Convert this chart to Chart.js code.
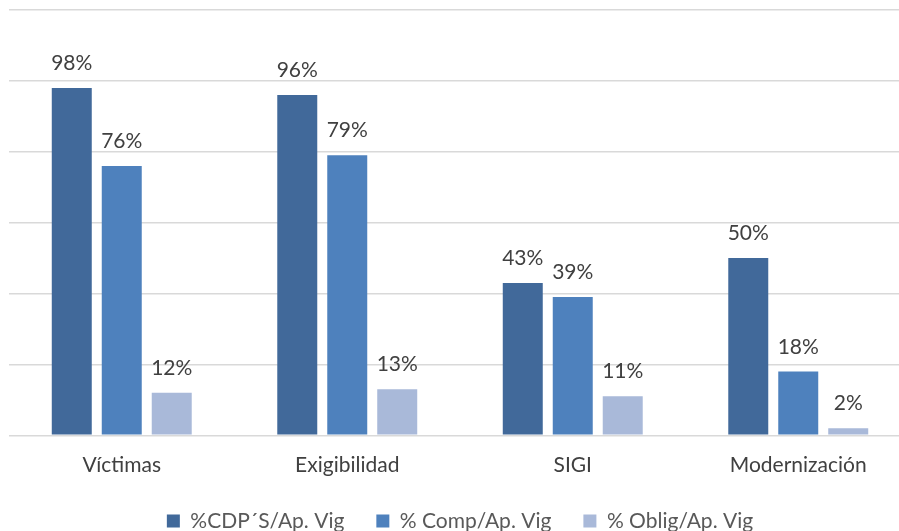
<!DOCTYPE html>
<html>
<head>
<meta charset="utf-8">
<script src="https://cdn.jsdelivr.net/npm/chart.js@4/dist/chart.umd.min.js"></script>
<style>
  body { margin: 0; background: #fff; overflow: hidden; }
  #wrap { width: 911px; height: 531px; position: relative; }
</style>
</head>
<body>
<div id="wrap"><canvas id="grafico"></canvas></div>
<script>
const categorias = ["Víctimas", "Exigibilidad", "SIGI", "Modernización"];
const cdps = [98, 96, 43, 50];
const comp = [76, 79, 39, 18];
const oblig = [12, 13, 11, 2];
const nomesSeries = ["%CDP´S/Ap. Vig", "% Comp/Ap. Vig", "% Oblig/Ap. Vig"];
const coresSeries = ["#41699A", "#4E81BD", "#A9B9D9"];

// rotulos em cima de cada barra
const rotulos = {
    id: "rotulos",
    afterDatasetsDraw(chart) {
        const ctx = chart.ctx;
        ctx.save();
        ctx.font = "21px Lato";
        ctx.fillStyle = "#404040";
        ctx.textAlign = "center";
        ctx.textBaseline = "alphabetic";
        chart.data.datasets.forEach((ds, i) => {
            chart.getDatasetMeta(i).data.forEach((el, j) => {
                ctx.fillText(ds.data[j] + "%", el.x, el.y - 18);
            });
        });
        ctx.restore();
    }
};

const data = {
    labels: categorias,
    datasets: [cdps, comp, oblig].map((valores, i) => ({
        label: nomesSeries[i],
        data: valores,
        backgroundColor: coresSeries[i],
        borderWidth: 0,
        categoryPercentage: 0.665,
        barPercentage: 0.8
    }))
};

const config = {
    type: "bar",
    data,
    options: {
        responsive: true,
        maintainAspectRatio: false,
        animation: false,
        layout: { padding: { left: 9, right: 0, top: 10, bottom: -10.5 } },
        plugins: {
            tooltip: { enabled: false },
            legend: {
                position: "bottom",
                labels: {
                    font: { family: "Lato", size: 21 },
                    color: "#595959",
                    boxWidth: 13,
                    boxHeight: 13,
                    padding: 32
                }
            }
        },
        scales: {
            x: {
                grid: { display: false, drawTicks: false },
                border: { display: false },
                ticks: {
                    font: { family: "Lato", size: 21 },
                    color: "#404040",
                    padding: 17
                },
                afterFit(scale) {
                    scale.height -= 16;
                }
            },
            y: {
                min: 0,
                max: 120,
                ticks: { stepSize: 20, display: false },
                grid: { color: "#d9d9d9", lineWidth: 1.5, drawTicks: false },
                border: { display: false }
            }
        }
    },
    plugins: [rotulos]
};

const meuGrafico = new Chart(document.getElementById("grafico").getContext("2d"), config);
</script>
</body>
</html>
